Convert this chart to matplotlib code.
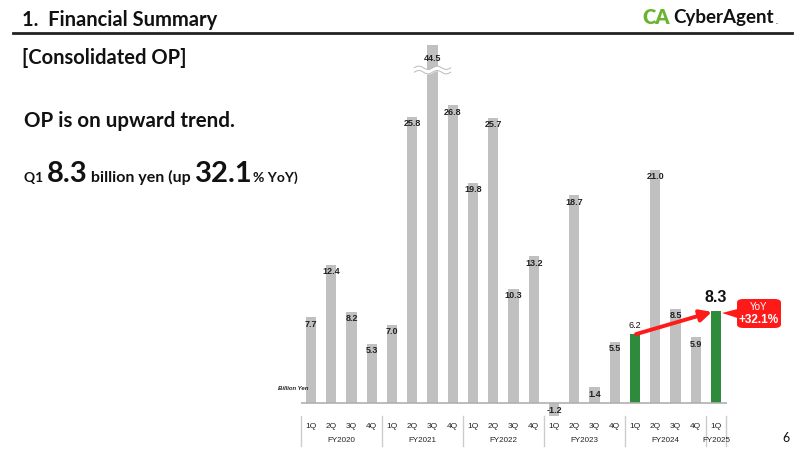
import numpy as np
import matplotlib
matplotlib.use("Agg")
import matplotlib.pyplot as plt
from matplotlib.patches import FancyBboxPatch, Polygon
from matplotlib.lines import Line2D
import matplotlib.transforms as mtransforms

plt.rcParams['font.family'] = ['Lato', 'DejaVu Sans']

quarters = ['1Q', '2Q', '3Q', '4Q'] * 5 + ['1Q']
years = ['FY2020', 'FY2021', 'FY2022', 'FY2023', 'FY2024', 'FY2025']
year_sizes = [4, 4, 4, 4, 4, 1]
op = [7.7, 12.4, 8.2, 5.3,
      7.0, 25.8, 44.5, 26.8,
      19.8, 25.7, 10.3, 13.2,
      -1.2, 18.7, 1.4, 5.5,
      6.2, 21.0, 8.5, 5.9,
      8.3]
highlight = [16, 20]
yoy_text = '+32.1%'

GRAY = '#c0c0c0'
GREEN = '#2e8b3c'
RED = '#ff1a1a'

W, H = 800, 450
fig = plt.figure(figsize=(8, 4.5), dpi=100)

def fx(px):
    return px / W

def fy(py):
    return 1 - py / H

# ---- header ----
fig.text(fx(22), fy(20), '1.  Financial Summary', fontsize=14.5, fontweight='bold',
         va='center', ha='left', color='#111111')
fig.add_artist(Line2D([fx(13), fx(792)], [fy(33), fy(33)], color='#222222', lw=2))
fig.text(fx(22), fy(58), '[Consolidated OP]', fontsize=14.5, fontweight='bold',
         va='center', ha='left', color='#111111')
fig.text(fx(642), fy(18), 'CA', fontsize=14.5, fontweight='heavy', color='#6ab42d',
         va='center', ha='left')
fig.text(fx(673), fy(18), 'CyberAgent', fontsize=13.5, fontweight='bold', color='#111111',
         va='center', ha='left')
fig.text(fx(776), fy(22), '.', fontsize=6, color='#111111', va='center', ha='left')

fig.text(fx(24), fy(121), 'OP is on upward trend.', fontsize=14.8, fontweight='bold',
         va='center', ha='left', color='#111111')

# mixed size line
parts = [('Q1 ', 10), ('8.3', 21), (' billion yen (up ', 11.5), ('32.1', 21), ('% YoY)', 10)]
renderer = fig.canvas.get_renderer()
x0 = fx(24)
for s, size in parts:
    t = fig.text(x0, fy(182), s, fontsize=size, fontweight='bold', va='baseline',
                 ha='left', color='#111111')
    bb = t.get_window_extent(renderer=renderer)
    x0 += bb.width / W

fig.text(fx(790), fy(438), '6', fontsize=9, va='center', ha='right', color='#111111')

# ---- chart ----
px_left, px_right = 300.9, 727.1
px_top, px_bottom = 45, 419.6
ax = fig.add_axes([fx(px_left), fy(px_bottom), (px_right - px_left) / W,
                   (px_bottom - px_top) / H])
x = np.arange(len(op))
colors = [GREEN if i in highlight else GRAY for i in x]
ax.bar(x, op, width=0.5, color=colors, zorder=2)
ax.set_xlim(-0.5, 20.55)
ax.set_ylim(-1.5, 32.25)
ax.axhline(0, color='#b0b0b0', lw=1.2, zorder=3)
for s in ax.spines.values():
    s.set_visible(False)
ax.set_xticks([])
ax.set_yticks([])
ax.patch.set_alpha(0)

# value labels
ymax = ax.get_ylim()[1]
lab = dict(fontsize=6.5, fontweight='bold', color='#222222', family=['Liberation Sans'],
           zorder=4, ha='center', va='center')
for i, v in enumerate(op):
    if i == 20:
        ax.text(i, v + 0.5, f'{v:.1f}', ha='center', va='bottom', fontsize=11.5,
                fontweight='bold', color='#111111', family=['Liberation Sans'])
    elif i in highlight:
        ax.text(i, v + 0.4, f'{v:.1f}', ha='center', va='bottom', fontsize=6.5,
                color='#111111', family=['Liberation Sans'])
    elif v > ymax:
        ax.text(i, ymax - 1.2, f'{v:.1f}', **lab)
    elif v < 0:
        ax.text(i, v + 0.5, f'{v:.1f}', **lab)
    else:
        ax.text(i, v - 0.6, f'{v:.1f}', **lab)

# axis break on the tall bar
bi = int(np.argmax(op))
wx = np.linspace(bi - 0.9, bi + 0.9, 60)
wave = 0.15 * np.sin((wx - wx[0]) / (wx[-1] - wx[0]) * 4 * np.pi)
ax.fill_between(wx, 30.0 + wave - 0.15, 30.0 + wave + 0.15, color='white', zorder=3)
ax.plot(wx, 30.0 + wave + 0.2, color='#bbbbbb', lw=0.7, zorder=3)
ax.plot(wx, 30.0 + wave - 0.2, color='#bbbbbb', lw=0.7, zorder=3)

fig.text(fx(278), fy(389), 'Billion Yen', fontsize=4.3, fontstyle='italic', fontweight='bold',
         ha='left', va='center', color='#222222', family=['Liberation Sans'])

# arrow from FY2024 1Q to FY2025 1Q
ax.annotate('', xy=(highlight[1] - 0.2, op[highlight[1]] - 0.1),
            xytext=(highlight[0] + 0.05, op[highlight[0]]),
            arrowprops=dict(arrowstyle='-|>,head_width=0.35,head_length=0.7',
                            color=RED, lw=2.8, shrinkA=0, shrinkB=0), zorder=5)

# YoY callout
bx0, by0, bw, bh = fx(737), fy(328), (781 - 737) / W, (328 - 299) / H
fig.add_artist(FancyBboxPatch((bx0, by0), bw, bh,
                              boxstyle='round,pad=0,rounding_size=0.008',
                              transform=fig.transFigure, color=RED, lw=0))
fig.add_artist(Polygon([[fx(737.5), fy(309)], [fx(722), fy(313)], [fx(737.5), fy(318)]],
                       closed=True, transform=fig.transFigure, color=RED, lw=0))
fig.text(fx(759), fy(306.5), 'YoY', fontsize=7, color='white', ha='center', va='center',
         family=['Liberation Sans'])
fig.text(fx(759), fy(320), yoy_text, fontsize=8.5, color='white', fontweight='bold',
         ha='center', va='center', family=['Liberation Sans'])

# category labels
trans = mtransforms.blended_transform_factory(ax.transData, fig.transFigure)
for i, q in enumerate(quarters):
    ax.text(i, fy(427), q, transform=trans, ha='center', va='center', fontsize=6,
            color='#222222', family=['Liberation Sans'])
start = 0
seps = [start - 0.5]
for name, n in zip(years, year_sizes):
    ax.text(start + (n - 1) / 2, fy(441), name, transform=trans, ha='center',
            va='center', fontsize=5.8, color='#222222', family=['Liberation Sans'])
    start += n
    seps.append(start - 0.5)
for s in seps:
    ax.add_line(Line2D([s, s], [fy(416), fy(446)], transform=trans, color='#cccccc',
                       lw=1, clip_on=False))

fig.savefig('out.png', dpi=100)
